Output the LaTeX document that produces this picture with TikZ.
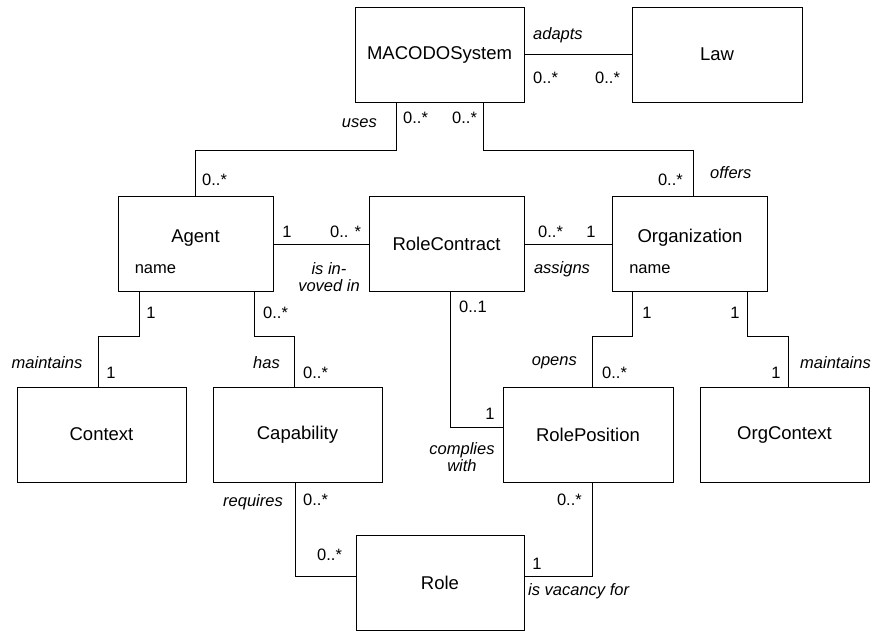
\documentclass[tikz,border=0pt]{standalone}
\usepackage{fontspec}
\setmainfont{Liberation Sans}
\usetikzlibrary{positioning}

\begin{document}
\begin{tikzpicture}[x=1pt,y=-1pt,
    cls/.style={draw,line width=0.8pt,minimum width=169pt,minimum height=95pt,inner sep=0pt,font=\fontsize{18.5}{22}\selectfont},
    narrow/.style={minimum width=155pt},
    title/.style={inner sep=0pt,font=\fontsize{18.5}{22}\selectfont},
    attr/.style={inner sep=0pt,font=\fontsize{16.5}{17}\selectfont},
    mult/.style={inner sep=0pt,font=\fontsize{16.5}{17}\selectfont},
    assoc/.style={inner sep=0pt,font=\fontsize{16.5}{17}\itshape},
    link/.style={line width=0.8pt}]
    \useasboundingbox (0,0) rectangle (873,631);

    \node (sys) at (439.5,54.5) [cls] {MACODOSystem};
    \node (law) at (717,54.5) [cls,minimum width=170pt] {Law};
    \node (agent) at (195.5,244) [cls,narrow] {};
    \node (rc) at (446.5,244) [cls,narrow] {RoleContract};
    \node (org) at (690,244) [cls,narrow] {};
    \node (ctx) at (101.5,434.5) [cls] {Context};
    \node (cap) at (297.5,434.5) [cls] {Capability};
    \node (pos) at (588,434.5) [cls,minimum width=170pt] {RolePosition};
    \node (octx) at (784.5,434.5) [cls] {OrgContext};
    \node (role) at (440,583) [cls,minimum width=168pt] {Role};

    \node (agenttitle) at ([yshift=6pt]agent.center) [title] {Agent};
    \node (agentattr) at ([xshift=17pt,yshift=-25pt]agent.west) [attr,anchor=west] {name};
    \node (orgtitle) at ([yshift=6pt]org.center) [title] {Organization};
    \node (orgattr) at ([xshift=17pt,yshift=-25pt]org.west) [attr,anchor=west] {name};

    \draw [link] (sys) -- (law);
    \draw [link] ([xshift=-43.5pt]sys.south) -- ++(0,48) -| (agent.north);
    \draw [link] ([xshift=43.5pt]sys.south) -- ++(0,48) -| ([xshift=3pt]org.north);
    \draw [link] (agent) -- (rc);
    \draw [link] (rc) -- (org);
    \draw [link] ([xshift=-56.5pt]agent.south) -- ++(0,44) -| ([xshift=-3.5pt]ctx.north);
    \draw [link] ([xshift=58.5pt]agent.south) -- ++(0,44) -| ([xshift=-3.5pt]cap.north);
    \draw [link] ([xshift=-58pt]org.south) -- ++(0,44) -| ([xshift=4pt]pos.north);
    \draw [link] ([xshift=57pt]org.south) -- ++(0,44) -| ([xshift=3.5pt]octx.north);
    \draw [link] ([xshift=3.5pt]rc.south) |- ([yshift=7.5pt]pos.west);
    \draw [link] ([xshift=-2.5pt]cap.south) |- ([yshift=7pt]role.west);
    \draw [link] ([xshift=4pt]pos.south) |- ([yshift=7pt]role.east);

    \node (adapts) at (533,35) [assoc,anchor=west] {adapts};
    \node (m1) at (533,78) [mult,anchor=west] {0..*};
    \node (m2) at (595,78) [mult,anchor=west] {0..*};
    \node (uses) at (377,123) [assoc,anchor=east] {uses};
    \node (m3) at (403,118) [mult,anchor=west] {0..*};
    \node (m4) at (452,118) [mult,anchor=west] {0..*};
    \node (m5) at (202,180) [mult,anchor=west] {0..*};
    \node (m6) at (683,180) [mult,anchor=east] {0..*};
    \node (offers) at (710,173) [assoc,anchor=west] {offers};
    \node (m7) at (287,232) [mult] {1};
    \node (m8) at (330,232) [mult,anchor=west] {0.. *};
    \node (involved) at (329,277.5) [assoc,align=center] {is in-\\voved in};
    \node (m9) at (538,232) [mult,anchor=west] {0..*};
    \node (m10) at (591,232) [mult] {1};
    \node (assigns) at (562,269) [assoc] {assigns};
    \node (m11) at (151,313) [mult] {1};
    \node (m12) at (111,373) [mult] {1};
    \node (maint1) at (47,363) [assoc] {maintains};
    \node (m13) at (263,313) [mult,anchor=west] {0..*};
    \node (has) at (280,363) [assoc,anchor=east] {has};
    \node (m14) at (303,373) [mult,anchor=west] {0..*};
    \node (m15) at (459,307) [mult,anchor=west] {0..1};
    \node (m16) at (490,414) [mult] {1};
    \node (complies) at (462,457.5) [assoc,align=center] {complies\\with};
    \node (m17) at (647,313) [mult] {1};
    \node (opens) at (577,363) [assoc,anchor=east] {opens};
    \node (m18) at (602,373) [mult,anchor=west] {0..*};
    \node (m19) at (735,313) [mult] {1};
    \node (m20) at (776,373) [mult] {1};
    \node (maint2) at (800,363) [assoc,anchor=west] {maintains};
    \node (requires) at (283,502) [assoc,anchor=east] {requires};
    \node (m21) at (303,500) [mult,anchor=west] {0..*};
    \node (m22) at (317,555) [mult,anchor=west] {0..*};
    \node (m23) at (582,500) [mult,anchor=east] {0..*};
    \node (m24) at (537,564) [mult] {1};
    \node (vacancy) at (528,591) [assoc,anchor=west] {is vacancy for};
\end{tikzpicture}
\end{document}
